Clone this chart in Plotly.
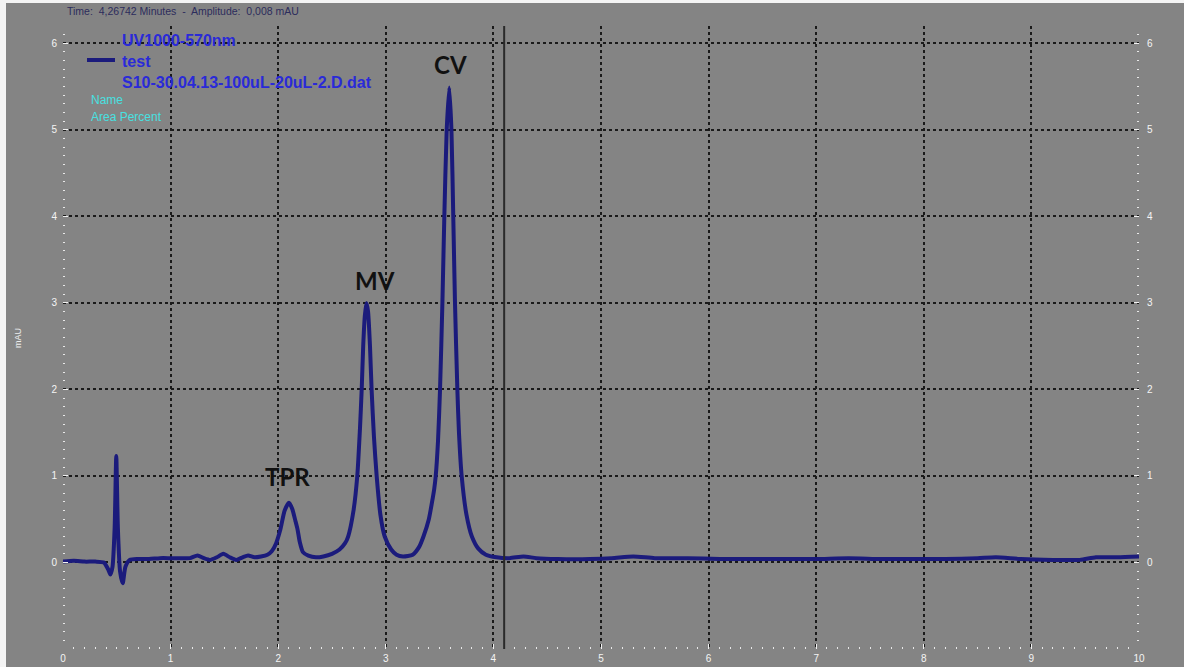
import plotly.graph_objects as go

# Chromatogram trace: retention time (min) and absorbance (mAU)
time_min = [
    0.00, 0.10, 0.20, 0.30, 0.38, 0.42, 0.44, 0.46, 0.48, 0.495, 0.51, 0.53, 0.555, 0.58, 0.62,
    0.70, 0.80, 0.90, 1.00, 1.10, 1.18, 1.25, 1.31, 1.37, 1.43, 1.49, 1.55, 1.61, 1.67, 1.72,
    1.78, 1.84, 1.90, 1.94, 1.98, 2.02, 2.06, 2.10, 2.13, 2.16, 2.18, 2.20, 2.23, 2.28, 2.35,
    2.42, 2.50, 2.57, 2.62, 2.65, 2.70, 2.735, 2.76, 2.776, 2.79, 2.805, 2.82, 2.835, 2.853,
    2.868, 2.89, 2.915, 2.95, 2.99, 3.05, 3.10, 3.16, 3.25, 3.31, 3.35, 3.40, 3.43, 3.45,
    3.464, 3.485, 3.504, 3.526, 3.544, 3.566, 3.59, 3.61, 3.627, 3.643, 3.665, 3.68, 3.705,
    3.75, 3.80, 3.86, 3.93, 4.03, 4.15, 4.28, 4.40, 4.60, 4.90, 5.10, 5.30, 5.50, 5.80, 6.10,
    6.40, 6.70, 7.00, 7.30, 7.60, 7.90, 8.20, 8.50, 8.67, 8.90, 9.20, 9.45, 9.60, 9.80, 10.00,
]
amplitude_mau = [
    0.01, 0.02, 0.01, 0.01, 0.00, -0.08, -0.14, -0.05, 0.40, 1.23, 0.40, -0.10, -0.24, -0.05, 0.03,
    0.04, 0.04, 0.05, 0.05, 0.05, 0.05, 0.08, 0.05, 0.03, 0.06, 0.10, 0.06, 0.03, 0.06, 0.08,
    0.06, 0.07, 0.09, 0.13, 0.22, 0.38, 0.60, 0.69, 0.62, 0.48, 0.38, 0.24, 0.12, 0.08, 0.06,
    0.07, 0.10, 0.15, 0.22, 0.30, 0.60, 1.00, 1.55, 2.00, 2.50, 2.85, 3.00, 2.90, 2.50,
    2.00, 1.45, 1.00, 0.55, 0.30, 0.15, 0.09, 0.07, 0.09, 0.18, 0.30, 0.50, 0.70, 0.85,
    1.00, 1.40, 2.00, 3.00, 4.00, 5.00, 5.49, 5.00, 4.00, 3.00, 2.00, 1.50, 1.00,
    0.55, 0.30, 0.16, 0.09, 0.06, 0.05, 0.07, 0.05, 0.04, 0.04, 0.05, 0.07, 0.05, 0.05, 0.04,
    0.04, 0.04, 0.04, 0.05, 0.04, 0.04, 0.04, 0.05, 0.06, 0.04, 0.03, 0.03, 0.06, 0.06, 0.07,
]

# Peak names and their label anchor points (time, amplitude)
peak_names = ["TPR", "MV", "CV"]
peak_label_time = [2.09, 2.90, 3.60]
peak_label_amp = [0.99, 3.26, 5.76]

cursor_time = 4.1
x_ticks = list(range(0, 11))
y_ticks = list(range(0, 7))

W, H = 1184, 667
ML, MR, MT, MB = 63, 45, 26, 18
PW, PH = W - ML - MR, H - MT - MB


def px(xp):
    return (xp - ML) / PW


def py(yp):
    return (H - MB - yp) / PH


BG = "#848484"
NAVY = "#1b1b7c"
TICK_FONT = dict(family="Liberation Sans, Arial", size=10, color="#f4f4f4")

fig = go.Figure()
fig.add_trace(go.Scatter(
    x=time_min, y=amplitude_mau, mode="lines",
    line=dict(color=NAVY, width=4, shape="spline", smoothing=0.6),
    hoverinfo="skip", showlegend=False,
))


def axis_style(grid=True):
    return dict(
        automargin=False, showline=False, zeroline=False,
        showgrid=grid, gridcolor="#1a1a1a", gridwidth=1.5, griddash="3px,3px",
        ticks="inside", ticklen=5, tickcolor="#f2f2f2", tickwidth=1,
        tickfont=TICK_FONT,
        minor=dict(dtick=0.1, ticks="inside", ticklen=2, tickcolor="#e8e8e8", showgrid=False),
    )


fig.update_layout(
    width=W, height=H,
    margin=dict(l=ML, r=MR, t=MT, b=MB, autoexpand=False),
    paper_bgcolor=BG, plot_bgcolor=BG,
    xaxis=dict(range=[0, 10], tickvals=x_ticks, ticklabelstandoff=2, **axis_style()),
    yaxis=dict(range=[-1, 6.2], tickvals=y_ticks, ticklabelstandoff=5, **axis_style()),
    yaxis2=dict(range=[-1, 6.2], tickvals=y_ticks, overlaying="y", side="right", anchor="x",
                ticklabelstandoff=7, **axis_style(grid=False)),
)

# Invisible companion trace so the right-hand amplitude scale is drawn
fig.add_trace(go.Scatter(x=[0, 10], y=[-1, 6.2], yaxis="y2", mode="lines",
                         line=dict(width=0), opacity=0, hoverinfo="skip", showlegend=False))

# Cursor line
fig.add_shape(type="line", xref="x", yref="paper", x0=cursor_time, x1=cursor_time, y0=0, y1=1,
              line=dict(color="#2a2a2a", width=2))

# White frame strips at the left and top edges
fig.add_shape(type="rect", xref="paper", yref="paper", x0=px(0), x1=px(6), y0=py(H), y1=py(0),
              fillcolor="#f4f4f4", line=dict(width=0), layer="above")
fig.add_shape(type="rect", xref="paper", yref="paper", x0=px(0), x1=px(W), y0=py(3), y1=py(0),
              fillcolor="#f4f4f4", line=dict(width=0), layer="above")

# Peak labels
for name, t, a in zip(peak_names, peak_label_time, peak_label_amp):
    fig.add_annotation(x=t, y=a, text=f"<b>{name}</b>", showarrow=False,
                       font=dict(family="Lato, Open Sans", size=24, color="#111111"))

# Header line
fig.add_annotation(xref="paper", yref="paper", x=px(65), y=py(11), xanchor="left", yanchor="middle",
                   text="Time:  4,26742 Minutes  -  Amplitude:  0,008 mAU", showarrow=False,
                   font=dict(family="Liberation Sans, Arial", size=10.5, color="#2c2c5c"))

# Legend block
BLUE = "#2a2ad8"
LEGEND_FONT = dict(family="Liberation Sans, Arial", size=16, color=BLUE)
fig.add_annotation(xref="paper", yref="paper", x=px(120), y=py(40), xanchor="left", yanchor="middle",
                   text="<b>UV1000-570nm</b>", showarrow=False, font=LEGEND_FONT)
fig.add_shape(type="line", xref="paper", yref="paper", x0=px(87), x1=px(115), y0=py(60), y1=py(60),
              line=dict(color=NAVY, width=4))
fig.add_annotation(xref="paper", yref="paper", x=px(120), y=py(61), xanchor="left", yanchor="middle",
                   text="<b>test</b>", showarrow=False, font=LEGEND_FONT)
fig.add_annotation(xref="paper", yref="paper", x=px(120), y=py(82), xanchor="left", yanchor="middle",
                   text="<b>S10-30.04.13-100uL-20uL-2.D.dat</b>", showarrow=False, font=LEGEND_FONT)
fig.add_annotation(xref="paper", yref="paper", x=px(89), y=py(100), xanchor="left", yanchor="middle",
                   text="Name", showarrow=False,
                   font=dict(family="Liberation Sans, Arial", size=12, color="#48e0e0"))
fig.add_annotation(xref="paper", yref="paper", x=px(89), y=py(117), xanchor="left", yanchor="middle",
                   text="Area Percent", showarrow=False,
                   font=dict(family="Liberation Sans, Arial", size=12, color="#48e0e0"))

# Amplitude unit title
fig.add_annotation(xref="paper", yref="paper", x=px(11), y=py(338), textangle=-90,
                   text="mAU", showarrow=False,
                   font=dict(family="Liberation Sans, Arial", size=9, color="#eeeeee"))

fig.write_html("out.html")
